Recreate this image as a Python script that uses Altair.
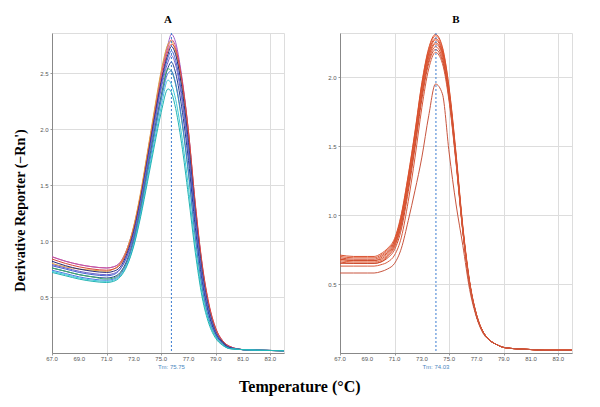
import altair as alt
import pandas as pd

# ---------------- data ----------------
tA = [67, 68, 69, 70, 71, 71.5, 72, 72.5, 73, 73.5, 74, 74.5, 75, 75.5, 75.75, 76,
      76.5, 77, 77.5, 78, 78.5, 79, 79.5, 80, 81, 82, 84]

A_purple = [.86, .82, .79, .77, .76, .77, .81, .93, 1.13, 1.42, 1.78, 2.15, 2.50, 2.76, 2.85, 2.80, 2.48, 1.98, 1.32, 0.78, 0.42, 0.21, 0.11, 0.06, 0.03, .025, .02]
A_magenta = [.86, .82, .79, .77, .76, .77, .81, .93, 1.13, 1.42, 1.78, 2.14, 2.48, 2.73, 2.80, 2.76, 2.46, 1.97, 1.32, 0.79, 0.43, 0.22, 0.11, 0.06, 0.03, .025, .02]
A_orange = [.80, .77, .75, .74, .73, .75, .80, .93, 1.14, 1.44, 1.80, 2.17, 2.52, 2.76, 2.79, 2.72, 2.40, 1.92, 1.28, 0.75, 0.40, 0.20, 0.10, 0.05, 0.03, .025, .02]
A_red = [.84, .80, .77, .75, .74, .75, .79, .91, 1.11, 1.40, 1.75, 2.11, 2.44, 2.70, 2.76, 2.73, 2.45, 1.98, 1.34, 0.80, 0.44, 0.22, 0.11, 0.06, 0.03, .025, .02]
A_navy = [.82, .78, .75, .73, .72, .73, .77, .89, 1.09, 1.38, 1.73, 2.09, 2.42, 2.67, 2.74, 2.69, 2.38, 1.88, 1.25, 0.73, 0.39, 0.19, 0.10, 0.05, 0.03, .025, .02]
A_blue = [.78, .75, .72, .70, .69, .70, .75, .87, 1.07, 1.36, 1.71, 2.06, 2.39, 2.64, 2.70, 2.64, 2.32, 1.83, 1.21, 0.70, 0.37, 0.18, 0.09, 0.05, 0.03, .025, .02]
A_slate = [.79, .76, .73, .71, .70, .71, .75, .86, 1.05, 1.34, 1.68, 2.03, 2.36, 2.60, 2.66, 2.60, 2.28, 1.79, 1.18, 0.68, 0.36, 0.18, 0.09, 0.05, 0.03, .025, .02]
A_darkblue = [.76, .73, .70, .68, .67, .68, .72, .83, 1.02, 1.30, 1.64, 1.98, 2.30, 2.55, 2.60, 2.53, 2.20, 1.72, 1.12, 0.64, 0.34, 0.17, 0.09, 0.05, 0.03, .025, .02]
A_green = [.76, .73, .70, .68, .66, .67, .71, .82, 1.01, 1.29, 1.62, 1.96, 2.28, 2.54, 2.52, 2.43, 2.08, 1.60, 1.03, 0.58, 0.30, 0.15, 0.08, 0.04, 0.03, .025, .02]
A_blue2 = [.74, .71, .68, .66, .65, .66, .70, .81, 1.00, 1.27, 1.60, 1.94, 2.26, 2.50, 2.52, 2.44, 2.10, 1.62, 1.05, 0.60, 0.31, 0.16, 0.08, 0.04, 0.03, .025, .02]
A_cyan = [.73, .70, .67, .65, .64, .65, .69, .79, .97, 1.24, 1.56, 1.89, 2.20, 2.44, 2.40, 2.30, 1.95, 1.48, 0.95, 0.53, 0.28, 0.14, 0.07, 0.04, 0.03, .025, .02]
A_teal = [.72, .69, .66, .64, .63, .64, .68, .78, .96, 1.22, 1.53, 1.85, 2.15, 2.36, 2.33, 2.22, 1.87, 1.40, 0.90, 0.50, 0.26, 0.13, 0.07, 0.04, 0.03, .025, .02]

A_names = ["purple", "magenta", "orange", "red", "navy", "blue", "slate", "darkblue",
           "green", "blue2", "cyan", "teal"]
A_series = [A_purple, A_magenta, A_orange, A_red, A_navy, A_blue, A_slate, A_darkblue,
            A_green, A_blue2, A_cyan, A_teal]
A_colors = ["#9b5fc8", "#d0509a", "#e3a23a", "#d8463c", "#2a2a78", "#3f63d2", "#7060c8",
            "#23408f", "#3cb36a", "#4a78e0", "#3cc8d8", "#22b4b4"]

tB = [67, 68, 69, 69.5, 70, 70.5, 71, 71.5, 72, 72.5, 73, 73.5, 74, 74.5, 75, 75.5, 76,
      76.5, 77, 77.5, 78, 78.5, 79, 80, 81, 82, 84]

B1 = [.71, .70, .70, .70, .72, .76, .83, 1.01, 1.29, 1.61, 1.96, 2.21, 2.31, 2.22, 1.92, 1.45, 0.92, 0.52, 0.28, 0.15, 0.09, 0.06, 0.04, 0.03, 0.025, 0.02, 0.02]
B2 = [.70, .69, .69, .69, .71, .75, .82, 1.00, 1.28, 1.60, 1.95, 2.20, 2.30, 2.21, 1.91, 1.44, 0.91, 0.51, 0.28, 0.15, 0.09, 0.06, 0.04, 0.03, 0.025, 0.02, 0.02]
B3 = [.69, .68, .68, .68, .70, .74, .81, .98, 1.26, 1.58, 1.93, 2.18, 2.28, 2.19, 1.89, 1.42, 0.90, 0.51, 0.27, 0.15, 0.09, 0.06, 0.04, 0.03, 0.025, 0.02, 0.02]
B4 = [.68, .67, .67, .67, .69, .73, .80, .97, 1.25, 1.57, 1.92, 2.17, 2.27, 2.18, 1.88, 1.41, 0.89, 0.50, 0.27, 0.15, 0.09, 0.06, 0.04, 0.03, 0.025, 0.02, 0.02]
B5 = [.68, .67, .67, .67, .68, .72, .79, .95, 1.23, 1.55, 1.90, 2.15, 2.25, 2.17, 1.88, 1.42, 0.90, 0.51, 0.28, 0.15, 0.09, 0.06, 0.04, 0.03, 0.025, 0.02, 0.02]
B6 = [.67, .66, .66, .66, .67, .71, .78, .94, 1.22, 1.54, 1.89, 2.14, 2.24, 2.16, 1.87, 1.41, 0.89, 0.50, 0.27, 0.15, 0.09, 0.06, 0.04, 0.03, 0.025, 0.02, 0.02]
B7 = [.66, .65, .65, .65, .66, .70, .77, .93, 1.20, 1.52, 1.87, 2.12, 2.22, 2.14, 1.85, 1.40, 0.89, 0.50, 0.27, 0.15, 0.09, 0.06, 0.04, 0.03, 0.025, 0.02, 0.02]
B8 = [.65, .65, .65, .65, .66, .69, .75, .90, 1.17, 1.49, 1.84, 2.10, 2.20, 2.12, 1.84, 1.39, 0.88, 0.50, 0.27, 0.15, 0.09, 0.06, 0.04, 0.03, 0.025, 0.02, 0.02]
B9 = [.63, .63, .63, .63, .64, .66, .71, .84, 1.10, 1.42, 1.78, 2.06, 2.18, 2.10, 1.82, 1.38, 0.88, 0.50, 0.27, 0.15, 0.09, 0.06, 0.04, 0.03, 0.025, 0.02, 0.02]
B10 = [.58, .58, .58, .58, .59, .61, .65, .76, .96, 1.18, 1.42, 1.72, 1.95, 1.88, 1.45, 1.08, 0.78, 0.46, 0.26, 0.14, 0.09, 0.06, 0.04, 0.03, 0.025, 0.02, 0.02]

B_names = ["b1", "b2", "b3", "b4", "b5", "b6", "b7", "b8", "b9", "b10"]
B_series = [B1, B2, B3, B4, B5, B6, B7, B8, B9, B10]
B_colors = ["#d9502e", "#e05a34", "#d4482a", "#de5530", "#cf4e2e", "#e4603a", "#d85232",
            "#cc4a2c", "#d65a3c", "#c8553e"]

x_ticks = [67, 69, 71, 73, 75, 77, 79, 81, 83]
yA_ticks = [0.5, 1.0, 1.5, 2.0, 2.5]
yB_ticks = [0.5, 1.0, 1.5, 2.0]
tmA = 75.75
tmB = 74.03


def long_df(ts, names, series):
    rows = []
    for n, s in zip(names, series):
        for t, v in zip(ts, s):
            rows.append({"t": t, "v": v, "curve": n})
    return pd.DataFrame(rows)


dfA = long_df(tA, A_names, A_series)
dfB = long_df(tB, B_names, B_series)
df_xt = pd.DataFrame({"t": x_ticks, "label": [f"{v:.1f}" for v in x_ticks]})

W, H = 232, 320
LBL = dict(labelFont="Liberation Sans", labelFontSize=6, labelColor="#555555",
           tickSize=2, tickColor="#999999", labelPadding=2, labelOverlap=False)


def panel(df, names, colors, ymax, yticks, tm, title, ytitle):
    xs = alt.X("t:Q", scale=alt.Scale(domain=[67, 84], nice=False, zero=False),
               axis=alt.Axis(values=x_ticks, labels=False, title=None, tickSize=2,
                             tickColor="#999999"))
    yaxis_kwargs = dict(values=yticks, format=".1f", **LBL)
    if ytitle:
        yaxis_kwargs.update(title=ytitle, titleFont="Liberation Serif", titleFontSize=14,
                            titleFontWeight="bold", titleColor="#000000", titlePadding=12,
                            titleY=177)
    else:
        yaxis_kwargs.update(title=None)
    ys = alt.Y("v:Q", scale=alt.Scale(domain=[0, ymax], nice=False), axis=alt.Axis(**yaxis_kwargs))
    lines = alt.Chart(df).mark_line(strokeWidth=1, interpolate="monotone").encode(
        x=xs, y=ys,
        color=alt.Color("curve:N", scale=alt.Scale(domain=names, range=colors), legend=None),
    )
    xlabels = alt.Chart(df_xt).mark_text(color="#555555", fontSize=6, font="Liberation Sans",
                                         baseline="middle").encode(
        x="t:Q", y=alt.value(H + 6), text="label:N")
    tmdf = pd.DataFrame({"t": [tm], "label": [f"Tm: {tm:.2f}"]})
    rule = alt.Chart(tmdf).mark_rule(color="#3a7cd0", strokeDash=[2, 2], strokeWidth=1).encode(
        x="t:Q")
    txt = alt.Chart(tmdf).mark_text(color="#4a86c0", fontSize=6, font="Liberation Sans",
                                    baseline="middle").encode(
        x="t:Q", y=alt.value(H + 14), text="label:N")
    return alt.layer(lines, rule, xlabels, txt).properties(
        width=W, height=H,
        title=alt.TitleParams(title, font="Liberation Serif", fontSize=11, fontWeight="bold",
                              color="#000000", offset=7))


pA = panel(dfA, A_names, A_colors, 2.86, yA_ticks, tmA, "A", "Derivative Reporter (\u2212Rn')")
pB = panel(dfB, B_names, B_colors, 2.32, yB_ticks, tmB, "B", None)

chart = alt.hconcat(pA, pB, spacing=40).resolve_scale(color="independent").properties(
    title=alt.TitleParams("Temperature (°C)", orient="bottom", anchor="middle",
                          font="Liberation Serif", fontSize=16, fontWeight="bold",
                          color="#000000", offset=8, dx=6)
).configure_view(stroke="#666666", strokeWidth=1).configure_axis(
    grid=True, gridColor="#d6d6d6", gridWidth=1, domain=False
).configure(background="#ffffff")

chart.save("out.html", embed_options={"renderer": "svg", "actions": False})
